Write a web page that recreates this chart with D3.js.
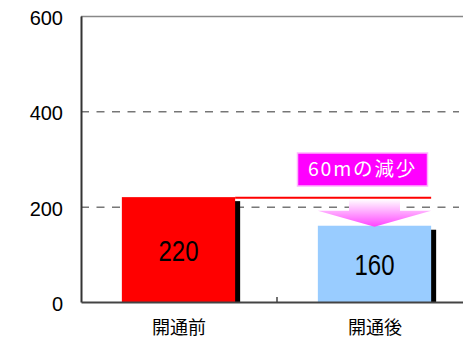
<!DOCTYPE html>
<head>
<meta charset="utf-8">
<title>開通前後</title>
<style>
body { margin: 0; background: #fff; }
</style>
</head>
<div id="container"></div>
<script src="https://cdn.jsdelivr.net/npm/d3@7"></script>
<script>
// Values
const categories = ["開通前", "開通後"];
const values = [220, 160];
const barColors = ["#ff0000", "#99ccff"];
const yTicks = [0, 200, 400, 600];
const gridTicks = [200, 400];
const noteText = "60mの減少";

// Chart dimensions and margins (plot runs past the right edge of the window).
const width = 463;
const height = 340;
const marginTop = 16;
const marginBottom = 38;
const marginLeft = 81;
const plotRight = 473;

const x = d3.scaleBand()
    .domain(categories)
    .range([marginLeft, plotRight])
    .padding(0);

const y = d3.scaleLinear()
    .domain([0, 600])
    .range([height - marginBottom, marginTop]);

const barW = x.bandwidth() * 0.578;
const barX = c => x(c) + (x.bandwidth() - barW) / 2 - 0.5;

const svg = d3.create("svg")
    .attr("width", width)
    .attr("height", height);

// arrow gradient
const defs = svg.append("defs");
const grad = defs.append("linearGradient")
    .attr("id", "arrowGrad")
    .attr("x1", 0).attr("y1", 0).attr("x2", 0).attr("y2", 1);
grad.append("stop").attr("offset", "0%").attr("stop-color", "#ffffff");
grad.append("stop").attr("offset", "100%").attr("stop-color", "#ff44ff");

// dashed gridlines
svg.append("g")
    .selectAll("line")
    .data(gridTicks)
    .join("line")
    .attr("x1", marginLeft)
    .attr("x2", 459)
    .attr("y1", d => y(d) + 0.5)
    .attr("y2", d => y(d) + 0.5)
    .attr("stroke", "#333")
    .attr("stroke-dasharray", "8,7.5");

// top frame
svg.append("line")
    .attr("x1", marginLeft)
    .attr("x2", plotRight)
    .attr("y1", y(600) + 0.5)
    .attr("y2", y(600) + 0.5)
    .attr("stroke", "#888")
    .attr("stroke-width", 1.5);

// shadows behind the bars
svg.append("g")
    .selectAll("rect")
    .data(categories)
    .join("rect")
    .attr("x", c => barX(c) + 5)
    .attr("y", (c, i) => y(values[i]) + 4)
    .attr("width", barW)
    .attr("height", (c, i) => y(0) - y(values[i]) - 4)
    .attr("fill", "#000");

// bars
svg.append("g")
    .selectAll("rect")
    .data(categories)
    .join("rect")
    .attr("x", c => barX(c))
    .attr("y", (c, i) => y(values[i]))
    .attr("width", barW)
    .attr("height", (c, i) => y(0) - y(values[i]))
    .attr("fill", (c, i) => barColors[i]);

// value labels (narrow digits)
svg.append("g")
    .selectAll("text")
    .data(categories)
    .join("text")
    .attr("transform", (c, i) => `translate(${barX(c) + barW / 2},${(y(values[i]) + y(0)) / 2 + 11}) scale(0.8,1)`)
    .attr("text-anchor", "middle")
    .attr("font-family", "'Liberation Sans', Arial, sans-serif")
    .attr("font-size", 30)
    .attr("fill", "#000")
    .text((c, i) => values[i]);

// red reference line at the "before" level
svg.append("line")
    .attr("x1", barX(categories[0]) + barW)
    .attr("x2", barX(categories[1]) + barW)
    .attr("y1", y(values[0]) + 0.5)
    .attr("y2", y(values[0]) + 0.5)
    .attr("stroke", "#ff0000")
    .attr("stroke-width", 2);

// downward arrow
const ax = barX(categories[1]) + barW / 2;
const aTop = y(values[0]) + 2;
const aTip = y(values[1]) + 1;
const aBase = aTip - 16;
const shaftHalf = 25.5;
const headHalf = barW / 2;
svg.append("path")
    .attr("d", `M${ax - shaftHalf},${aTop} L${ax + shaftHalf},${aTop} L${ax + shaftHalf},${aBase} L${ax + headHalf},${aBase} L${ax},${aTip} L${ax - headHalf},${aBase} L${ax - shaftHalf},${aBase} Z`)
    .attr("fill", "url(#arrowGrad)");

// note box
const boxW = 130;
const boxH = 33;
const boxX = ax - 12 - boxW / 2;
const boxY = 153;
svg.append("rect")
    .attr("x", boxX)
    .attr("y", boxY)
    .attr("width", boxW)
    .attr("height", boxH)
    .attr("fill", "#ff00ff")
    .attr("stroke", "#ffb3ff")
    .attr("stroke-width", 1.5);

svg.append("text")
    .attr("x", boxX + boxW / 2)
    .attr("y", boxY + boxH / 2 + 6.5)
    .attr("text-anchor", "middle")
    .attr("font-family", "'Noto Sans CJK JP', sans-serif")
    .attr("font-size", 19.5)
    .attr("letter-spacing", 1.8)
    .attr("fill", "#fff")
    .text(noteText);

// y axis
svg.append("g")
    .attr("transform", `translate(${marginLeft},0)`)
    .call(d3.axisLeft(y).tickValues(yTicks).tickSize(0).tickPadding(18))
    .call(g => g.select(".domain").attr("stroke", "#333").attr("stroke-width", 2))
    .call(g => g.selectAll("text")
        .attr("font-family", "'Liberation Sans', Arial, sans-serif")
        .attr("font-size", 20)
        .attr("fill", "#000")
        .attr("dy", "0.42em"));

// x axis
svg.append("g")
    .attr("transform", `translate(0,${y(0)})`)
    .call(d3.axisBottom(x).tickSize(0).tickPadding(19))
    .call(g => g.select(".domain").attr("stroke", "#444").attr("stroke-width", 2))
    .call(g => g.selectAll("text")
        .attr("font-family", "'Noto Sans CJK JP', sans-serif")
        .attr("font-size", 18)
        .attr("fill", "#000"));

// tick mark between the categories
svg.append("line")
    .attr("x1", x(categories[1]))
    .attr("x2", x(categories[1]))
    .attr("y1", y(0))
    .attr("y2", y(0) - 5)
    .attr("stroke", "#444")
    .attr("stroke-width", 1.5);

container.append(svg.node());
</script>
